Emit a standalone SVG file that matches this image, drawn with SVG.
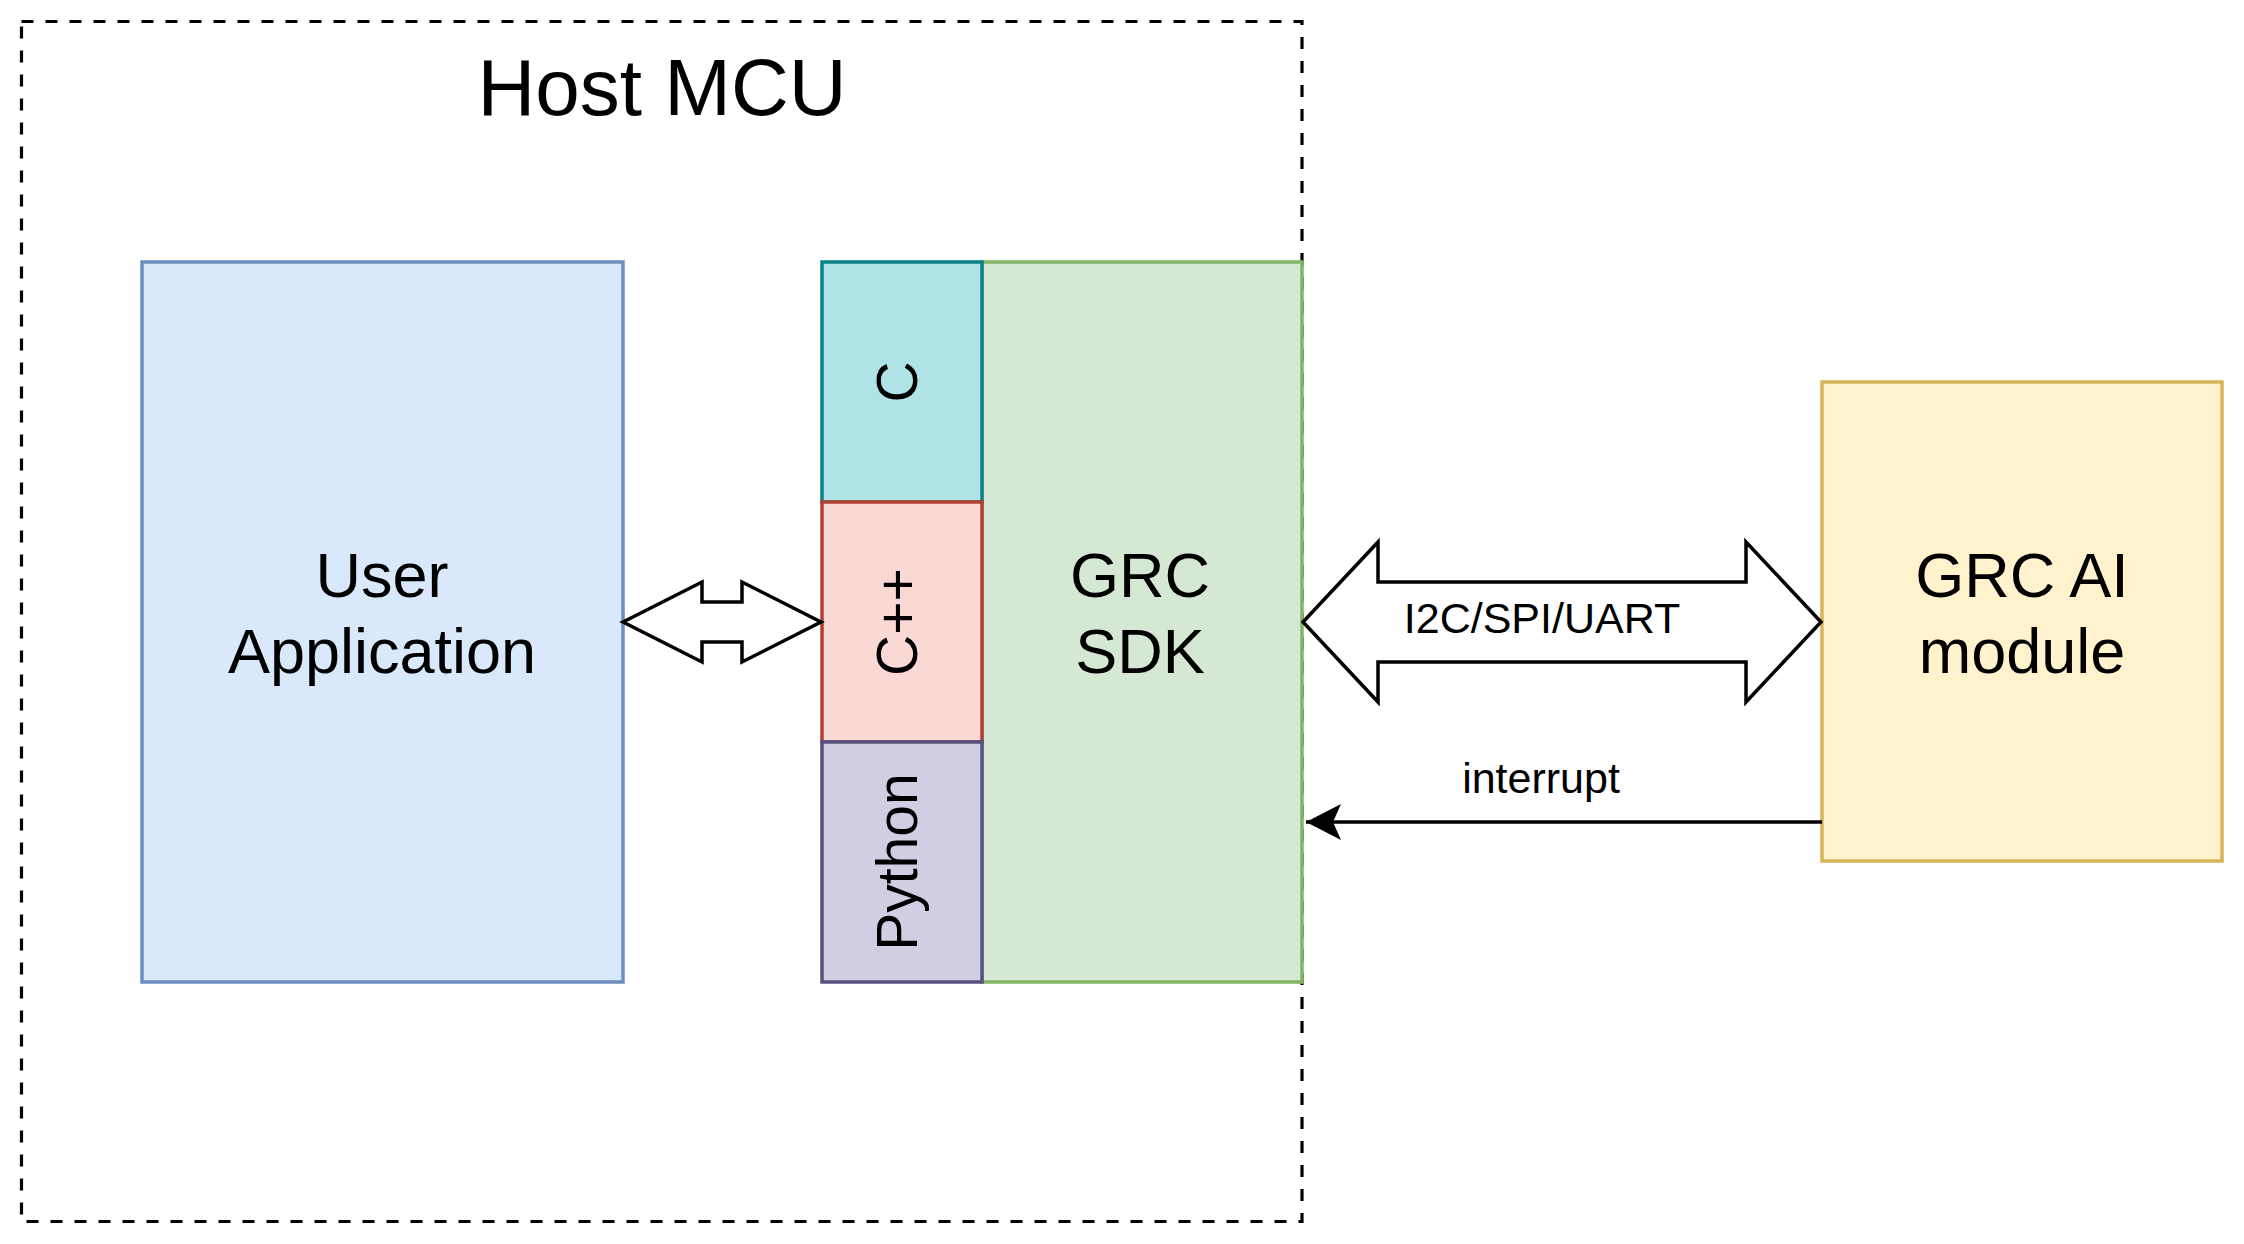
<svg xmlns="http://www.w3.org/2000/svg" width="2244" height="1244" viewBox="0 0 2244 1244">
<style>
text{font-family:"Liberation Sans",Arial,sans-serif;fill:#000;text-anchor:middle}
.big{font-size:63px}
.rot{font-size:57px}
.lbl{font-size:43px}
.box{stroke-width:3.5}
.shape{fill:#fff;stroke:#000;stroke-width:3.5;stroke-linejoin:miter}
</style>
<defs>
<marker id="ah" markerUnits="userSpaceOnUse" markerWidth="40" markerHeight="40" viewBox="0 0 40 40" refX="35" refY="20" orient="auto">
<path d="M35,20 L0,2 L8,20 L0,38 Z" fill="#000"/>
</marker>
</defs>
<rect width="2244" height="1244" fill="#fff"/>
<g id="host-mcu">
<rect x="21.5" y="21.5" width="1280.5" height="1200" fill="none" stroke="#000" stroke-width="3.2" stroke-dasharray="12 12"/>
<text x="662" y="115" style="font-size:80px">Host MCU</text>
</g>
<g id="user-application">
<rect class="box" x="142" y="262" width="481" height="720" fill="#dae8fc" stroke="#6c8ebf"/>
<text class="big" x="382" y="597">User</text>
<text class="big" x="382" y="673">Application</text>
</g>
<g id="grc-sdk">
<rect class="box" x="982" y="262" width="320" height="720" fill="#d5e8d4" stroke="#82b366"/>
<text class="big" x="1140" y="597">GRC</text>
<text class="big" x="1140" y="673">SDK</text>
</g>
<g id="lang-c">
<rect class="box" x="822" y="262" width="160" height="240" fill="#b0e3e6" stroke="#0e8088"/>
<text class="rot" transform="translate(917,382) rotate(-90)">C</text>
</g>
<g id="lang-cpp">
<rect class="box" x="822" y="502" width="160" height="240" fill="#fad9d5" stroke="#ae4132"/>
<text class="rot" transform="translate(917,622) rotate(-90)">C++</text>
</g>
<g id="lang-python">
<rect class="box" x="822" y="742" width="160" height="240" fill="#d0cee2" stroke="#56517e"/>
<text class="rot" transform="translate(917,862) rotate(-90)">Python</text>
</g>
<g id="grc-ai-module">
<rect class="box" x="1822" y="382" width="400" height="479" fill="#fff2cc" stroke="#d6b656"/>
<text class="big" x="2022" y="597">GRC AI</text>
<text class="big" x="2022" y="673">module</text>
</g>
<g id="connectors">
<polygon class="shape" points="623,622 702,582 702,602 742,602 742,582 821,622 742,662 742,642 702,642 702,662"/>
<polygon class="shape" points="1303,622 1378,542 1378,582 1746,582 1746,542 1821,622 1746,702 1746,662 1378,662 1378,702"/>
<text class="lbl" x="1542" y="633">I2C/SPI/UART</text>
<line x1="1822" y1="822" x2="1306" y2="822" stroke="#000" stroke-width="3.5" marker-end="url(#ah)"/>
<text class="lbl" x="1541" y="793">interrupt</text>
</g>
</svg>
